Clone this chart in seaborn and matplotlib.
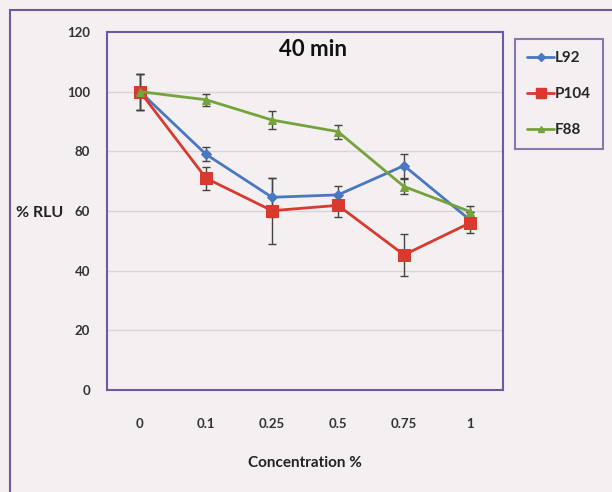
import matplotlib
matplotlib.use("Agg")
import matplotlib.pyplot as plt
import seaborn as sns
import pandas as pd
import numpy as np
from matplotlib.patches import Rectangle
from matplotlib.lines import Line2D

categories = ["0", "0.1", "0.25", "0.5", "0.75", "1"]
series_names = ["L92", "P104", "F88"]
l92 = [100, 79.0, 64.6, 65.4, 75.2, 57.0]
p104 = [100, 71.0, 60.1, 61.9, 45.3, 56.0]
f88 = [100, 97.3, 90.5, 86.6, 68.2, 59.8]
l92_err = [6, 2.3, 6.5, 3.0, 4.0, 2.5]
p104_err = [6, 3.8, 11.0, 3.8, 7.0, 3.5]
f88_err = [6, 2.0, 3.0, 2.3, 2.5, 2.0]
yticks = [0, 20, 40, 60, 80, 100, 120]

values = [l92, p104, f88]
errors = [l92_err, p104_err, f88_err]
colors = {"L92": "#4a78c0", "P104": "#d83a30", "F88": "#76a23c"}
markers = {"L92": "D", "P104": "s", "F88": "^"}
msizes = {"L92": 5, "P104": 8, "F88": 6}

sns.set_theme(style="white")
plt.rcParams['font.family'] = ['Lato', 'DejaVu Sans']

rows = []
for name, vals in zip(series_names, values):
    for i, v in enumerate(vals):
        rows.append({"pos": i, "value": v, "series": name})
df = pd.DataFrame(rows)

W, H = 612, 492
fig = plt.figure(figsize=(W / 100, H / 100), dpi=100)
bg = "#f4eff1"
fig.patch.set_facecolor(bg)
frame_col = "#6a5c9e"

# outer chart frame
fig.add_artist(Rectangle((10 / W, -0.05), 1.1, 1 - 10 / H + 0.05, transform=fig.transFigure,
                         fill=False, edgecolor=frame_col, linewidth=1.5))

ax = fig.add_axes([107 / W, 1 - 390 / H, 396 / W, 358 / H])
ax.set_facecolor(bg)

for name, vals, errs in zip(series_names, values, errors):
    ax.errorbar(range(len(vals)), vals, yerr=errs, fmt="none", ecolor="#444444",
                elinewidth=1.0, capsize=3, capthick=1.0, zorder=2)

sns.lineplot(data=df, x="pos", y="value", hue="series", style="series",
             palette=colors, markers=markers, dashes=False, linewidth=2.0,
             ax=ax, legend=False, zorder=3)
for line, name in zip(ax.get_lines()[-3:], series_names):
    line.set_markersize(msizes[name])
    line.set_markeredgecolor(colors[name])

ax.set_xlim(-0.5, 5.5)
ax.set_ylim(0, 120)
ax.set_yticks(yticks)
ax.set_yticklabels([str(t) for t in yticks], fontsize=9.5, fontweight="bold", color="#333333")
ax.set_xticks(range(len(categories)))
ax.set_xticklabels(categories, fontsize=9.5, fontweight="bold", color="#333333")
ax.tick_params(axis="y", length=0, pad=12)
ax.tick_params(axis="x", length=0, pad=20)
for t in yticks[1:-1]:
    ax.axhline(t, color="#d8d4d8", linewidth=1.0, zorder=0)
for s in ax.spines.values():
    s.set_color(frame_col)
    s.set_linewidth(1.5)
ax.set_xlabel("Concentration %", fontsize=11, fontweight="bold", color="#222222", labelpad=19)
ax.set_ylabel("")
fig.text(40 / W, 1 - 213 / H, "% RLU", fontsize=11.5, fontweight="bold", color="#222222",
         ha="center", va="center")
ax.text(0.52, 0.98, "40 min", transform=ax.transAxes, fontsize=16, fontweight="bold",
        ha="center", va="top", color="#111111")

handles = [Line2D([0], [0], color=colors[n], marker=markers[n], markersize=msizes[n] - 1,
                  linewidth=2) for n in series_names]
leg = fig.legend(handles, series_names, loc="upper left",
                 bbox_to_anchor=(507 / W, 1 - 31 / H), bbox_transform=fig.transFigure,
                 frameon=True, handlelength=1.8, handletextpad=0.05,
                 labelspacing=1.45, borderpad=0.8, fancybox=False,
                 prop={"family": ["Lato", "DejaVu Sans"], "weight": "bold", "size": 11})
leg.get_frame().set_edgecolor(frame_col)
leg.get_frame().set_linewidth(1.5)
leg.get_frame().set_facecolor(bg)

fig.savefig("out.png", dpi=100, facecolor=fig.get_facecolor())
